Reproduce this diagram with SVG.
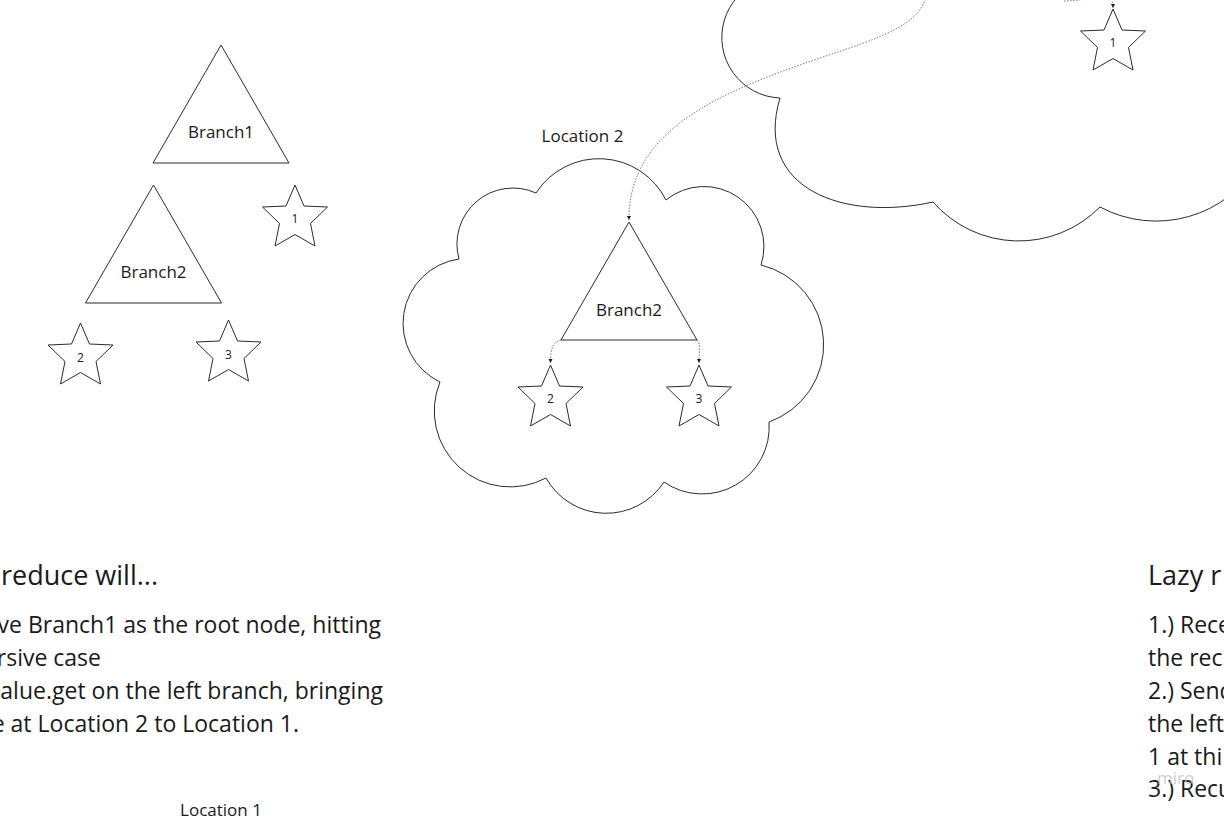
<svg xmlns="http://www.w3.org/2000/svg" xmlns:xlink="http://www.w3.org/1999/xlink" width="1224" height="816" viewBox="0 0 1224 816">
<style>
.shape{fill:#ffffff;stroke:#2b2b2b;stroke-width:1}
.cloud{fill:none;stroke:#2b2b2b;stroke-width:1}
.lbl{font-family:"Open Sans","Noto Sans","Liberation Sans",sans-serif;font-size:17px;fill:#1a1a1a;text-anchor:middle}
.num{font-family:"Open Sans","Noto Sans","Liberation Sans",sans-serif;font-size:12px;fill:#1a1a1a;text-anchor:middle}
.head{font-family:"Open Sans","Noto Sans","Liberation Sans",sans-serif;font-size:27px;fill:#1a1a1a}
.body{font-family:"Open Sans","Noto Sans","Liberation Sans",sans-serif;font-size:23px;fill:#1a1a1a}
.conn{fill:none;stroke:#7a7a7a;stroke-width:1;stroke-dasharray:1.5 1.5}
.wm{font-family:"Open Sans","Noto Sans","Liberation Sans",sans-serif;font-size:17px;fill:#c4c4c4;opacity:0.8}
</style>
<defs>
<path id="star" d="M0,0 L9,21 L32.5,22 L15.5,38.5 L20,61 L0,49.5 L-20,61 L-15.5,38.5 L-32.5,22 L-9,21 Z"/>
<marker id="arr" markerUnits="userSpaceOnUse" markerWidth="6" markerHeight="6" refX="4" refY="2" orient="auto">
<path d="M0,0 L4,2 L0,4 Z" fill="#1a1a1a"/>
</marker>
</defs>
<rect width="1224" height="816" fill="#ffffff"/>

<g id="cloud-location1">
<path class="cloud" d="M814,-14 A60.5,60.5 0 1 0 780,98 C753,188 843,222 933,202 A114,114 0 0 0 1100,207 A119,119 0 0 0 1259,162"/>
</g>
<g id="cloud-location2">
<path class="cloud" d="M536,193 A75,75 0 0 1 666,200 A60,60 0 0 1 761,265 A82,82 0 0 1 769,422 A67,67 0 0 1 664,482 A69,69 0 0 1 546,478 A76,76 0 0 1 440,382 A65,65 0 0 1 459,259 A56,56 0 0 1 536,193 Z"/>
</g>

<g id="label-location2"><text class="lbl" x="582.5" y="141.5">Location 2</text></g>
<g id="label-location1"><text class="lbl" x="221" y="815.5">Location 1</text></g>

<g id="branch1"><path class="shape" d="M221,45 L289,163 L153,163 Z"/><text class="lbl" x="221" y="138">Branch1</text></g>
<g id="branch2-left"><path class="shape" d="M153.5,185 L221.5,303 L85.5,303 Z"/><text class="lbl" x="153.5" y="278">Branch2</text></g>
<g id="branch2-cloud"><path class="shape" d="M629,222 L697,340 L561,340 Z"/><text class="lbl" x="629" y="315.5">Branch2</text></g>

<g id="star1-left"><use xlink:href="#star" class="shape" transform="translate(295,185)"/><text class="num" x="295" y="223">1</text></g>
<g id="star2-left"><use xlink:href="#star" class="shape" transform="translate(80.5,323)"/><text class="num" x="80.5" y="361.5">2</text></g>
<g id="star3-left"><use xlink:href="#star" class="shape" transform="translate(228.5,320)"/><text class="num" x="228.5" y="358.5">3</text></g>
<g id="star2-cloud"><use xlink:href="#star" class="shape" transform="translate(550.5,365)"/><text class="num" x="550.5" y="403">2</text></g>
<g id="star3-cloud"><use xlink:href="#star" class="shape" transform="translate(699,365)"/><text class="num" x="699" y="403">3</text></g>
<g id="star1-topright"><use xlink:href="#star" class="shape" transform="translate(1113,9)"/><text class="num" x="1113" y="46.5">1</text></g>

<g id="connectors">
<path class="conn" marker-end="url(#arr)" d="M926,-4 C920,25 880,38 820,58 C720,92 628,130 629,220"/>
<path class="conn" marker-end="url(#arr)" d="M561,340 C553,342 550.5,348 550.5,363"/>
<path class="conn" marker-end="url(#arr)" d="M697,340 C701,344 699,352 699,363"/>
<path class="conn" marker-end="url(#arr)" d="M1064,1 C1095,1 1113,-14 1113,8"/>
</g>

<g id="text-left">
<text class="head" x="158" y="585" text-anchor="end">reduce will...</text>
<text class="body" x="381" y="633" text-anchor="end">ve Branch1 as the root node, hitting</text>
<text class="body" x="101" y="666" text-anchor="end">rsive case</text>
<text class="body" x="383" y="699" text-anchor="end">alue.get on the left branch, bringing</text>
<text class="body" x="299" y="731.5" text-anchor="end">e at Location 2 to Location 1.</text>
</g>

<g id="text-right">
<text class="head" x="1148" y="585">Lazy r</text>
<text class="body" x="1148" y="633">1.) Rece</text>
<text class="body" x="1148" y="666">the rec</text>
<text class="body" x="1148" y="699">2.) Send</text>
<text class="body" x="1148" y="731.5">the left</text>
<text class="body" x="1148" y="764.5">1 at thi</text>
<text class="body" x="1148" y="797">3.) Recu</text>
</g>

<g id="watermark"><text class="wm" x="1157" y="784">miro</text></g>
</svg>
